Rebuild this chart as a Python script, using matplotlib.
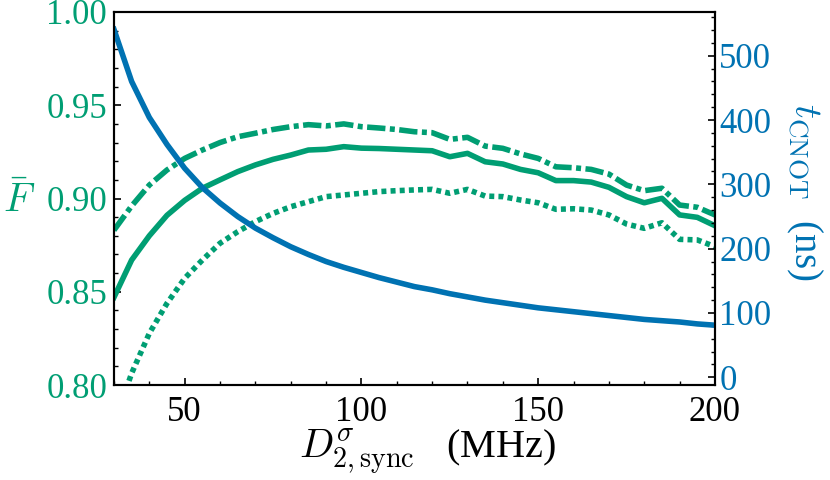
import matplotlib
matplotlib.use("Agg")
import matplotlib.pyplot as plt
from matplotlib.ticker import MultipleLocator

plt.rcParams['font.family'] = ['Liberation Serif', 'DejaVu Serif']
plt.rcParams['mathtext.fontset'] = 'cm'

# Data
x = [30, 35, 40, 45, 50, 55, 60, 65, 70, 75, 80, 85, 90, 95, 100, 105, 110, 115,
     120, 125, 130, 135, 140, 145, 150, 155, 160, 165, 170, 175, 180, 185, 190, 195, 200]
F_solid = [0.847, 0.867, 0.880, 0.891, 0.899, 0.9055, 0.910, 0.9144, 0.918, 0.921,
           0.9233, 0.926, 0.9264, 0.9278, 0.927, 0.9268, 0.9264, 0.926, 0.9256, 0.9224,
           0.9242, 0.9197, 0.9185, 0.9156, 0.9138, 0.9096, 0.9096, 0.9088, 0.906, 0.901,
           0.8977, 0.9001, 0.8912, 0.8899, 0.8854]
F_dashdot = [0.883, 0.896, 0.9072, 0.9153, 0.9215, 0.926, 0.930, 0.9331, 0.935, 0.937,
             0.9385, 0.9396, 0.9389, 0.940, 0.9385, 0.9378, 0.937, 0.9358, 0.9353, 0.9317,
             0.9328, 0.9281, 0.9269, 0.9239, 0.9215, 0.917, 0.9165, 0.9156, 0.9131, 0.9072,
             0.9042, 0.9055, 0.8965, 0.8953, 0.8912]
F_dotted = [0.779, 0.8063, 0.8277, 0.8438, 0.8572, 0.867, 0.876, 0.8822, 0.8876, 0.892,
            0.8956, 0.8983, 0.901, 0.9019, 0.9028, 0.9037, 0.9042, 0.9046, 0.9049, 0.9028,
            0.9049, 0.9013, 0.901, 0.8992, 0.8977, 0.8942, 0.8945, 0.8938, 0.8912, 0.8863,
            0.884, 0.887, 0.8781, 0.8778, 0.8742]
t_cnot = [541, 460, 404, 362, 325, 295, 271, 250, 232, 217, 203, 191, 180, 171, 163,
          155, 148, 141, 136, 130, 125, 120, 116, 112, 108, 105, 102, 99, 96, 93, 90,
          88, 86, 83, 81]
F_ticks = [0.80, 0.85, 0.90, 0.95, 1.00]
F_ticklabels = ['0.80', '0.85', '0.90', '0.95', '1.00']

green = '#009E73'
blue = '#0072B2'

fig = plt.figure(figsize=(8.3, 4.8), dpi=100)
ax = fig.add_axes([0.1373, 0.1979, 0.7241, 0.7771])
ax2 = ax.twinx()

lw = 4.0
ax.plot(x, F_solid, color=green, lw=lw)
ax.plot(x, F_dashdot, color=green, lw=lw, linestyle=(0, (3.3, 0.8, 0.9, 0.8)),
        dash_capstyle='butt')
ax.plot(x, F_dotted, color=green, lw=lw, linestyle=(0, (0.9, 0.75)),
        dash_capstyle='butt')
ax2.plot(x, t_cnot, color=blue, lw=lw)

ax.set_xlim(30, 200)
ax.set_ylim(0.80, 1.00)
ax2.set_ylim(-12, 568)

ax.xaxis.set_major_locator(MultipleLocator(50))
ax.xaxis.set_minor_locator(MultipleLocator(10))
ax.yaxis.set_minor_locator(MultipleLocator(0.01))
ax2.yaxis.set_major_locator(MultipleLocator(100))
ax2.yaxis.set_minor_locator(MultipleLocator(20))
ax.set_yticks(F_ticks)
ax.set_yticklabels(F_ticklabels)

for a in (ax, ax2):
    for s in a.spines.values():
        s.set_linewidth(1.5)
ax.tick_params(axis='both', which='major', direction='in', length=5, width=1.2,
               labelsize=25, top=False, right=False)
ax.tick_params(axis='both', which='minor', direction='in', length=3, width=1.0,
               top=False, right=False)
ax.tick_params(axis='y', which='both', labelcolor=green, pad=5)
ax.tick_params(axis='x', pad=8)
ax2.tick_params(axis='y', which='major', direction='in', length=5, width=1.2,
                labelsize=25, labelcolor=blue, pad=3)
ax2.tick_params(axis='y', which='minor', direction='in', length=3, width=1.0)

ax.set_xlabel(r'$D^{\sigma}_{2,\mathrm{sync}}$' + '   (MHz)', fontsize=29,
              ha='center', va='top')
ax.xaxis.set_label_coords(0.522, -0.115)
ax.set_ylabel(r'$\bar{F}$', fontsize=29, color=green, rotation=0,
              ha='center', va='center')
ax.yaxis.set_label_coords(-0.158, 0.49)
ax2.set_ylabel(r'$t_{\mathrm{CNOT}}$' + '  (ns)', fontsize=28, color=blue,
               rotation=270, ha='center', va='center')
ax2.yaxis.set_label_coords(1.148, 0.517)

fig.savefig('out.png', dpi=100)
